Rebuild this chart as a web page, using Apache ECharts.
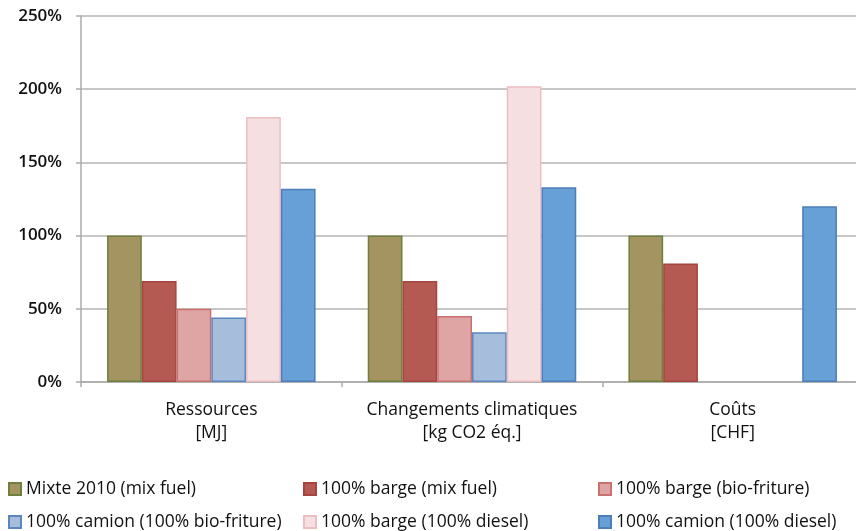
<!DOCTYPE html>
<html><head><meta charset="utf-8">
<script src="https://cdn.jsdelivr.net/npm/echarts@6/dist/echarts.min.js"></script>
<style>html,body{margin:0;padding:0;background:#fff}#c{width:856px;height:531px}</style>
</head><body><div id="c"></div>
<script>
const categories = ['Ressources\n[MJ]', 'Changements climatiques\n[kg CO2 éq.]', 'Coûts\n[CHF]'];
const seriesNames = ['Mixte 2010 (mix fuel)', '100% barge (mix fuel)', '100% barge (bio-friture)', '100% camion (100% bio-friture)', '100% barge (100% diesel)', '100% camion (100% diesel)'];
const mixte2010 = [100, 100, 100];
const bargeMix = [69, 69, 81];
const bargeBio = [50, 45, null];
const camionBio = [44, 34, null];
const bargeDiesel = [181, 202, null];
const camionDiesel = [132, 133, 120];
const yTicks = [0, 50, 100, 150, 200, 250];

const values = [mixte2010, bargeMix, bargeBio, camionBio, bargeDiesel, camionDiesel];
const fills = ['#A39462', '#B55A52', '#DEA5A4', '#A6BDDB', '#F5DFE1', '#679FD7'];
const borders = ['#6F7F3C', '#A6453F', '#C9716F', '#5B86BF', '#EBBEC1', '#4D7EBA'];
const legendPos = [[8,480],[303,480],[598,480],[8,513],[303,513],[598,513]];
const font = "'Open Sans', sans-serif";

const chart = echarts.init(document.getElementById('c'), null, {renderer:'canvas'});
chart.setOption({
  animation: false,
  backgroundColor: '#fff',
  grid: {left: 81, top: 16, height: 366, width: 782, containLabel: false, outerBoundsMode: 'none'},
  legend: seriesNames.map((n, i) => ({
    data: [n], left: legendPos[i][0], top: legendPos[i][1],
    icon: 'rect', itemWidth: 12, itemHeight: 12, itemGap: 5,
    textStyle: {fontFamily: font, fontSize: 17.5, color: '#111', padding: [0,0,0,0]},
    padding: 0
  })),
  xAxis: {
    type: 'category', data: categories,
    axisLine: {lineStyle: {color: '#ABABAB', width: 1.5}},
    axisTick: {show: true, length: 5, lineStyle: {color: '#ABABAB', width: 1.5}},
    axisLabel: {fontFamily: font, fontSize: 17.5, color: '#111', lineHeight: 23, margin: 17,
      interval: 0, hideOverlap: false}
  },
  yAxis: {
    type: 'value', min: 0, max: 250, interval: 50,
    axisLine: {show: true, lineStyle: {color: '#ABABAB', width: 1.5}},
    axisTick: {show: true, length: 5, lineStyle: {color: '#ABABAB', width: 1.5}},
    splitLine: {lineStyle: {color: '#B5B5B5', width: 1.5}},
    axisLabel: {fontFamily: font, fontSize: 17, fontWeight: 600, color: '#111', margin: 19,
      padding: [5, 0, 0, 0],
      formatter: v => yTicks.includes(v) ? v + '%' : ''}
  },
  series: seriesNames.map((n, i) => ({
    name: n, type: 'bar', data: values[i],
    barGap: '0%', barCategoryGap: '20%',
    itemStyle: {color: fills[i], borderColor: borders[i], borderWidth: 1.5}
  }))
});
</script></body></html>
